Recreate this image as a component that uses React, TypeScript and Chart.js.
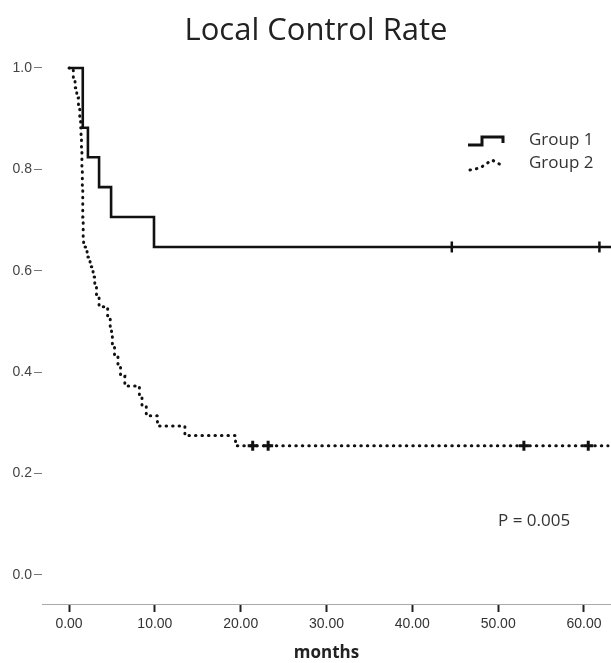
import React, { useEffect, useRef } from 'react';
import { Chart, registerables } from 'chart.js';

Chart.register(...registerables);

// ---- data ----
const chartTitle = 'Local Control Rate';
const xAxisTitle = 'months';
const seriesNames = ['Group 1', 'Group 2'];
const pValueText = 'P = 0.005';

const xTicks = [0, 10, 20, 30, 40, 50, 60];
const xTickLabels = ['0.00', '10.00', '20.00', '30.00', '40.00', '50.00', '60.00'];
const yTicks = [0, 0.2, 0.4, 0.6, 0.8, 1.0];
const yTickLabels = ['0.0', '0.2', '0.4', '0.6', '0.8', '1.0'];

// Group 1: event times (months) and survival after each step
const g1Times = [0, 1.6, 2.2, 3.5, 4.9, 9.9, 63.3];
const g1Surv = [1, 0.882, 0.824, 0.765, 0.706, 0.647, 0.647];
const g1Censor = [44.6, 61.8];

// Group 2
const g2Times = [
  0, 0.5, 0.7, 0.9, 1.1, 1.25, 1.35, 1.4, 1.45, 1.5,
  1.5, 1.55, 1.55, 1.6, 1.6, 1.6, 1.65, 1.65, 1.7, 2.1,
  2.45, 2.8, 3.0, 3.2, 3.5, 4.5, 4.8, 4.95, 5.05, 5.3,
  5.7, 6.0, 6.5, 8.2, 8.5, 9.0, 10.3, 13.5, 19.4, 62.8,
];
const g2Surv = [
  1, 0.980, 0.961, 0.941, 0.922, 0.902, 0.882, 0.863, 0.843, 0.824,
  0.804, 0.784, 0.765, 0.745, 0.725, 0.706, 0.686, 0.667, 0.647, 0.627,
  0.608, 0.588, 0.569, 0.549, 0.529, 0.510, 0.490, 0.471, 0.451, 0.431,
  0.412, 0.392, 0.373, 0.353, 0.333, 0.314, 0.294, 0.275, 0.255, 0.255,
];
const g2Censor = [21.4, 23.2, 53.0, 60.5];

function survAt(times: number[], surv: number[], t: number) {
  let v = surv[0];
  for (let i = 0; i < times.length; i++) {
    if (times[i] <= t) v = surv[i];
  }
  return v;
}

const UI_FONT = '"Open Sans", Lato, sans-serif';
const TICK_FONT = '"Liberation Sans", Arial, sans-serif';

const annotationPlugin = {
  id: 'kmAnnotations',
  afterDraw(chart: any) {
    const ctx = chart.ctx as CanvasRenderingContext2D;
    const area = chart.chartArea;
    ctx.save();
    // title
    ctx.fillStyle = '#222';
    ctx.font = `31px ${UI_FONT}`;
    ctx.textAlign = 'center';
    ctx.textBaseline = 'middle';
    ctx.fillText(chartTitle, 316, 31);

    // legend icons
    const lx = area.right - 143;
    const ly = area.top + 79;
    ctx.strokeStyle = '#111';
    ctx.lineWidth = 3;
    ctx.lineJoin = 'miter';
    ctx.beginPath();
    ctx.moveTo(lx, ly + 8);
    ctx.lineTo(lx + 14, ly + 8);
    ctx.lineTo(lx + 14, ly);
    ctx.lineTo(lx + 35, ly);
    ctx.lineTo(lx + 35, ly + 6);
    ctx.stroke();

    ctx.setLineDash([0.5, 6]);
    ctx.lineCap = 'round';
    ctx.beginPath();
    ctx.moveTo(lx + 2, ly + 33);
    ctx.lineTo(lx + 12, ly + 31);
    ctx.lineTo(lx + 24, ly + 23);
    ctx.lineTo(lx + 35, ly + 29);
    ctx.stroke();
    ctx.setLineDash([]);

    ctx.fillStyle = '#333';
    ctx.font = `17px ${UI_FONT}`;
    ctx.textAlign = 'left';
    ctx.textBaseline = 'middle';
    ctx.fillText(seriesNames[0], lx + 61, ly + 3);
    ctx.fillText(seriesNames[1], lx + 61, ly + 26);

    ctx.fillText(pValueText, area.right - 113, area.bottom - 83);
    ctx.restore();
  },
};

export default function App() {
  const ref = useRef<HTMLCanvasElement | null>(null);

  useEffect(() => {
    if (!ref.current) return;
    const chart = new Chart(ref.current, {
      type: 'line',
      data: {
        datasets: [
          {
            label: seriesNames[0],
            data: g1Times.map((t, i) => ({ x: t, y: g1Surv[i] })),
            stepped: true,
            borderColor: '#111',
            borderWidth: 2.6,
            pointRadius: 0,
            fill: false,
          },
          {
            label: seriesNames[1],
            data: g2Times.map((t, i) => ({ x: t, y: g2Surv[i] })),
            stepped: true,
            borderColor: '#111',
            borderWidth: 3,
            borderDash: [0.5, 6],
            borderCapStyle: 'round',
            pointRadius: 0,
            fill: false,
          },
          {
            label: 'g1 censored',
            data: g1Censor.map((t) => ({ x: t, y: survAt(g1Times, g1Surv, t) })),
            showLine: false,
            pointStyle: 'line',
            rotation: 90,
            pointRadius: 5.5,
            borderWidth: 2.5,
            borderColor: '#111',
            backgroundColor: '#111',
          },
          {
            label: 'g2 censored',
            data: g2Censor.map((t) => ({ x: t, y: survAt(g2Times, g2Surv, t) })),
            showLine: false,
            pointStyle: 'cross',
            pointRadius: 5,
            borderWidth: 3,
            borderColor: '#111',
            backgroundColor: '#111',
          },
        ],
      },
      options: {
        animation: false,
        responsive: false,
        devicePixelRatio: 1,
        layout: { autoPadding: false, padding: { top: 58, left: 0, right: 0, bottom: 0 } },
        plugins: {
          legend: { display: false },
          tooltip: { enabled: false },
          title: { display: false },
        },
        scales: {
          x: {
            type: 'linear',
            min: -3.15,
            max: 63.15,
            afterBuildTicks: (s: any) => {
              s.ticks = xTicks.map((v) => ({ value: v }));
            },
            afterFit: (s: any) => {
              s.paddingLeft = 0;
              s.paddingRight = 0;
            },
            ticks: {
              color: '#333',
              font: { family: TICK_FONT, size: 14 },
              padding: 4,
              maxRotation: 0,
              callback: (v: any) => {
                const i = xTicks.indexOf(Number(v));
                return i >= 0 ? xTickLabels[i] : '';
              },
            },
            grid: {
              drawOnChartArea: false,
              drawTicks: true,
              tickLength: 8,
              tickWidth: 2,
              tickColor: '#222',
            },
            border: { display: true, color: '#aaa', width: 1 },
            title: {
              display: true,
              text: xAxisTitle,
              color: '#222',
              font: { family: UI_FONT, size: 17, weight: 'bold' },
              padding: { top: 5.8, bottom: 0 },
            },
          },
          y: {
            type: 'linear',
            min: -0.0572,
            max: 1.0197,
            afterFit: (s: any) => {
              s.width = 42;
            },
            afterBuildTicks: (s: any) => {
              s.ticks = yTicks.map((v) => ({ value: v }));
            },
            ticks: {
              color: '#444',
              font: { family: TICK_FONT, size: 14 },
              padding: 2,
              callback: (v: any) => {
                const i = yTicks.findIndex((t) => Math.abs(t - Number(v)) < 1e-9);
                return i >= 0 ? yTickLabels[i] : '';
              },
            },
            grid: {
              drawOnChartArea: false,
              drawTicks: true,
              tickLength: 8,
              tickWidth: 1,
              tickColor: '#777',
            },
            border: { display: false },
          },
        },
      },
      plugins: [annotationPlugin],
    } as any);
    return () => chart.destroy();
  }, []);

  return (
    <div style={{ position: 'absolute', left: 0, top: 0, width: 611, height: 663, background: '#fff' }}>
      <canvas ref={ref} width={611} height={663} style={{ display: 'block', width: 611, height: 663 }} />
    </div>
  );
}
